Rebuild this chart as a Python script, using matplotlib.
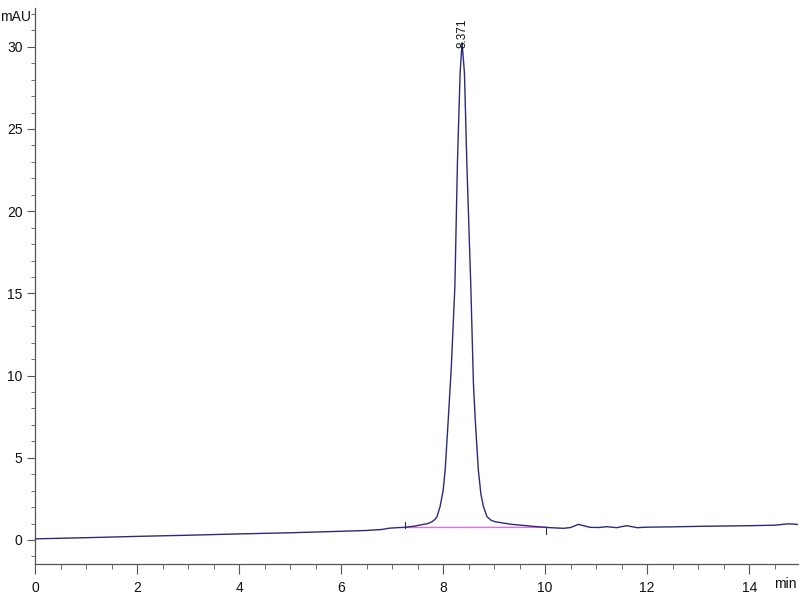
"""HPLC chromatogram, single main peak at 8.371 min."""
import matplotlib
matplotlib.use("Agg")
import matplotlib.pyplot as plt
from matplotlib.ticker import MultipleLocator

plt.rcParams["font.family"] = ["Liberation Sans", "DejaVu Sans"]

# signal (time in min, absorbance in mAU)
time_min = [0.0, 1.0, 2.0, 3.0, 4.0, 5.0, 6.0, 6.5, 6.8, 6.95, 7.1, 7.25,
            7.45, 7.58, 7.7, 7.78, 7.84, 7.88, 7.94, 8.0, 8.04, 8.1, 8.16,
            8.23, 8.28, 8.333, 8.371, 8.418, 8.465, 8.543, 8.594, 8.63, 8.69,
            8.74, 8.79, 8.86, 8.94, 9.02, 9.2, 9.35, 9.6, 9.84, 10.1, 10.36,
            10.5, 10.65, 10.88, 11.05, 11.21, 11.4, 11.6, 11.8, 12.0, 12.5,
            13.0, 13.5, 14.0, 14.5, 14.75, 14.85, 15.0]
signal_mau = [0.07, 0.14, 0.22, 0.29, 0.37, 0.44, 0.53, 0.58, 0.64, 0.72, 0.75, 0.77,
              0.85, 0.93, 1.0, 1.11, 1.25, 1.42, 2.03, 3.0, 4.26, 7.3, 10.5,
              15.4, 22.9, 28.4, 30.25, 28.4, 22.9, 15.4, 9.5, 7.3, 4.26,
              2.8, 2.03, 1.42, 1.2, 1.11, 1.02, 0.95, 0.88, 0.81, 0.75, 0.71,
              0.76, 0.95, 0.77, 0.76, 0.81, 0.75, 0.87, 0.75, 0.78, 0.8,
              0.83, 0.85, 0.87, 0.9, 0.98, 0.97, 0.93]

# integration baseline and peak label
peak_rt = 8.371
peak_top = 30.25
base_t = [7.25, 10.02]
base_y = [0.76, 0.77]

fig = plt.figure(figsize=(8, 6), dpi=100)
ax = fig.add_axes([0.04375, 0.06, 0.954, 0.9267])

ax.plot(time_min, signal_mau, color="#2a2a7e", linewidth=1.0, zorder=3)
ax.plot(base_t, base_y, color="#e070e0", linewidth=1.0, zorder=2)
# integration start / end markers
ax.plot([base_t[0], base_t[0]], [base_y[0], base_y[0] + 0.35], color="#333333", linewidth=0.8)
ax.plot([base_t[1], base_t[1]], [base_y[1] - 0.4, base_y[1]], color="#333333", linewidth=0.8)

ax.text(peak_rt, peak_top - 0.3, f"{peak_rt:.3f}", rotation=90, ha="center", va="bottom",
        fontsize=8.5, color="#111111")

ax.set_xlim(0, 14.96)
ax.set_ylim(-1.46, 32.36)
ax.xaxis.set_major_locator(MultipleLocator(2))
ax.xaxis.set_minor_locator(MultipleLocator(0.5))
ax.yaxis.set_major_locator(MultipleLocator(5))
ax.yaxis.set_minor_locator(MultipleLocator(1))

for side in ("top", "right"):
    ax.spines[side].set_visible(False)
for side in ("left", "bottom"):
    ax.spines[side].set_color("#555555")
    ax.spines[side].set_linewidth(0.9)

ax.tick_params(axis="both", which="major", labelsize=10, color="#555555", labelcolor="#111111")
ax.tick_params(axis="y", which="major", length=6, pad=3)
ax.tick_params(axis="y", which="minor", length=3, color="#555555")
ax.tick_params(axis="x", which="major", length=7, pad=5)
ax.tick_params(axis="x", which="minor", length=3.5, color="#555555")

fig.text(0.0, 1 - 17 / 600, "mAU", fontsize=10, ha="left", va="center", color="#111111")
fig.text(785 / 800, 1 - 584 / 600, "min", fontsize=10, ha="center", va="center", color="#111111")

fig.savefig("out.png", dpi=100)
